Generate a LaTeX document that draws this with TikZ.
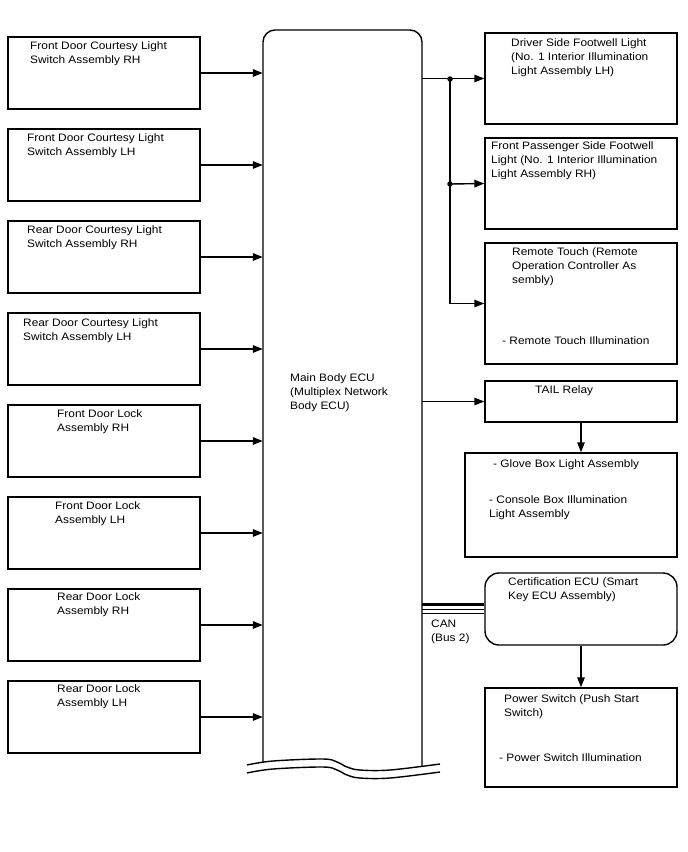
\documentclass[tikz,border=0pt]{standalone}
\usepackage{fontspec}
\setmainfont{Liberation Sans}[FakeStretch=1.1]
\usetikzlibrary{arrows.meta}
\tikzset{
  box/.style={draw, line width=1.4pt, rectangle, inner sep=0pt},
  rbox/.style={box, rounded corners=14pt},
  txt/.style={anchor=north west, inner sep=0pt, align=left, font=\fontsize{10.8}{14}\selectfont},
  arr/.style={line width=1.4pt, -{Triangle[length=10pt,width=7.5pt]}},
  ln/.style={line width=1.4pt},
  dot/.style={circle, fill, inner sep=0pt, minimum size=5.5pt}
}
\begin{document}
\begin{tikzpicture}[x=1pt,y=-1pt]
\useasboundingbox (0,0) rectangle (688,852);
% left boxes
\foreach \i in {1,...,8}{
  \node[box, minimum width=192pt, minimum height=72pt] (L\i) at (104,{73+92*(\i-1)}) {};
}
% ECU placeholder node
\node[minimum width=159pt, minimum height=736pt, inner sep=0pt] (ecu) at (342.5,398) {};
\draw[ln, rounded corners=12pt] (263,763) -- (263,30) -- (422,30) -- (422,766);
\draw[ln] plot[smooth, tension=0.6] coordinates {(247,765) (273,761) (323,759) (337,762) (347,767) (360,770) (390,770) (440,764)};
\draw[ln] plot[smooth, tension=0.6] coordinates {(247,773) (273,769) (323,767) (337,770) (347,775) (360,778) (390,778) (440,772)};
% right boxes
\node[box, minimum width=192pt, minimum height=91pt] (R1) at (581,78.5) {};
\node[box, minimum width=192pt, minimum height=91pt] (R2) at (581,183.5) {};
\node[box, minimum width=192pt, minimum height=121pt] (R3) at (581,303.5) {};
\node[box, minimum width=192pt, minimum height=41pt] (tail) at (581,401.5) {};
\node[box, minimum width=212pt, minimum height=104pt] (glove) at (571,505) {};
\node[rbox, minimum width=192pt, minimum height=72pt] (cert) at (581,609) {};
\node[box, minimum width=192pt, minimum height=99pt] (power) at (581,737.5) {};
% texts
\node[txt] (tL1) at (30,39) {\strut Front Door Courtesy Light\\Switch Assembly RH};
\node[txt] (tL2) at (27,131) {\strut Front Door Courtesy Light\\Switch Assembly LH};
\node[txt] (tL3) at (27,223) {\strut Rear Door Courtesy Light\\Switch Assembly RH};
\node[txt] (tL4) at (23,316) {\strut Rear Door Courtesy Light\\Switch Assembly LH};
\node[txt] (tL5) at (57,407) {\strut Front Door Lock\\Assembly RH};
\node[txt] (tL6) at (55,499) {\strut Front Door Lock\\Assembly LH};
\node[txt] (tL7) at (57,590) {\strut Rear Door Lock\\Assembly RH};
\node[txt] (tL8) at (57,682) {\strut Rear Door Lock\\Assembly LH};
\node[txt] (tecu) at (290,371) {\strut Main Body ECU\\(Multiplex Network\\Body ECU)};
\node[txt] (tR1) at (511,36) {\strut Driver Side Footwell Light\\(No. 1 Interior Illumination\\Light Assembly LH)};
\node[txt] (tR2) at (491,139) {\strut Front Passenger Side Footwell\\Light (No. 1 Interior Illumination\\Light Assembly RH)};
\node[txt] (tR3) at (512,245) {\strut Remote Touch (Remote\\Operation Controller As\\sembly)};
\node[txt] (tR3b) at (502,334) {\strut - Remote Touch Illumination};
\node[txt] (ttail) at (535,383) {\strut TAIL Relay};
\node[txt] (tg1) at (493,457) {\strut - Glove Box Light Assembly};
\node[txt] (tg2) at (489,493) {\strut - Console Box Illumination\\Light Assembly};
\node[txt] (tcert) at (508,575) {\strut Certification ECU (Smart\\Key ECU Assembly)};
\node[txt] (tpw1) at (504,692) {\strut Power Switch (Push Start\\Switch)};
\node[txt] (tpw2) at (499,751) {\strut - Power Switch Illumination};
\node[txt] (tcan) at (431,617) {\strut CAN\\(Bus 2)};
% connectors left
\foreach \i in {1,...,8}{
  \draw[arr] (L\i.east) -- (L\i.east -| ecu.west);
}
% right connectors
\coordinate (j1) at (450,79);
\coordinate (j2) at (450,184);
\draw[arr] (R1.west -| ecu.east) -- (R1.west);
\draw[ln] (j1) -- (j1 |- R3.west);
\draw[arr] (j1 |- R3.west) -- (R3.west);
\draw[arr] (j2) -- (R2.west);
\node[dot] (d1) at (j1) {};
\node[dot] (d2) at (j2) {};
\draw[arr] (tail.west -| ecu.east) -- (tail.west);
\draw[arr] (tail.south) -- (tail.south |- glove.north);
\draw[arr] (cert.south) -- (cert.south |- power.north);
% CAN bus (yshift is in canvas direction: positive = up)
\draw[line width=3pt] ([yshift=4.5pt]cert.west -| ecu.east) -- ([yshift=4.5pt]cert.west);
\draw[line width=1.2pt] ([yshift=-0.8pt]cert.west -| ecu.east) -- ([yshift=-0.8pt]cert.west);
\draw[line width=1.2pt] ([yshift=-4.8pt]cert.west -| ecu.east) -- ([yshift=-4.8pt]cert.west);
\end{tikzpicture}
\end{document}
